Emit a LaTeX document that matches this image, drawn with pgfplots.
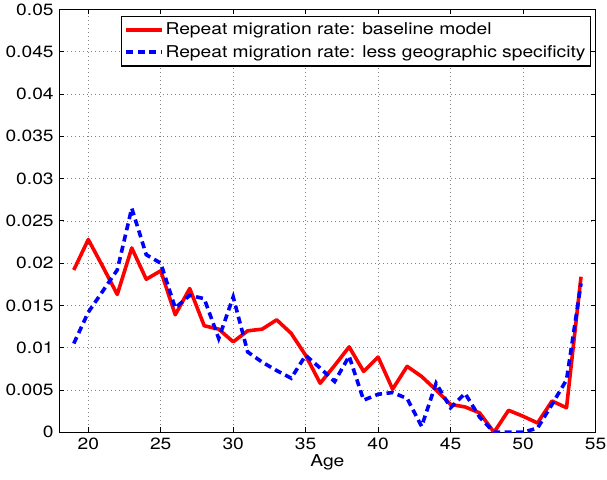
\documentclass[border=0pt]{standalone}
\usepackage{pgfplots}
\pgfplotsset{compat=1.18}
\usepackage{fontspec}
\setmainfont{TeX Gyre Heros}[FakeStretch=1.18]
\begin{document}
\fontsize{16.3bp}{19bp}\selectfont
\begin{tikzpicture}
\begin{axis}[
  at={(0,0)}, anchor=south west,
  scale only axis, width=536.2bp, height=422.8bp,
  xmin=18, xmax=55, ymin=0, ymax=0.05,
  xtick={20,25,30,35,40,45,50,55},
  ytick={0,0.005,0.01,0.015,0.02,0.025,0.03,0.035,0.04,0.045,0.05},
  yticklabels={0,0.005,0.01,0.015,0.02,0.025,0.03,0.035,0.04,0.045,0.05},
  scaled y ticks=false,
  /pgf/number format/assume math mode=true,
  tick align=inside, major tick length=5bp,
  tick style={black, line width=0.8bp},
  axis line style={black, line width=1.2bp},
  grid=major,
  major grid style={gray, line width=0.6bp, dash pattern=on 0.7bp off 3.3bp},
  xlabel={Age},
  xlabel style={yshift=6bp},
  tick label style={font=\fontsize{16.3bp}{19bp}\selectfont},
  label style={font=\fontsize{16.3bp}{19bp}\selectfont},
  legend style={at={(1,1)}, anchor=north east, xshift=-4.8bp, yshift=-6.2bp,
    draw=black, line width=1.2bp, font=\fontsize{16.3bp}{19bp}\selectfont,
    inner xsep=2.5bp, inner ysep=4.5bp, row sep=4bp},
  legend cell align=left,
  legend image code/.code={\draw[#1] (0bp,0bp) -- (35.7bp,0bp);},
]
\addplot[red, line width=3.6bp, line join=round] coordinates {
(19,0.0192) (20,0.0228) (21,0.0196) (22,0.0163) (23,0.0218) (24,0.0181)
(25,0.0191) (26,0.0139) (27,0.0170) (28,0.0126) (29,0.0122) (30,0.0107)
(31,0.0120) (32,0.0122) (33,0.0133) (34,0.0117) (35,0.0091) (36,0.0058)
(37,0.0079) (38,0.0101) (39,0.0072) (40,0.0089) (41,0.0051) (42,0.0078)
(43,0.0066) (44,0.0050) (45,0.0033) (46,0.0030) (47,0.0023) (48,0.0000)
(49,0.0026) (50,0.0019) (51,0.0011) (52,0.0037) (53,0.0029) (54,0.0184)
};
\addlegendentry{Repeat migration rate: baseline model}
\addplot[blue, line width=3.6bp, dash pattern=on 7bp off 4.5bp] coordinates {
(19,0.0105) (20,0.0142) (21,0.0167) (22,0.0192) (23,0.0265) (24,0.0210)
(25,0.0200) (26,0.0147) (27,0.0162) (28,0.0158) (29,0.0111) (30,0.0160)
(31,0.0095) (32,0.0083) (33,0.0073) (34,0.0064) (35,0.0091) (36,0.0076)
(37,0.0060) (38,0.0090) (39,0.0038) (40,0.0045) (41,0.0047) (42,0.0040)
(43,0.0007) (44,0.0058) (45,0.0029) (46,0.0046) (47,0.0018) (48,0.0000)
(49,0.0000) (50,0.0000) (51,0.0005) (52,0.0033) (53,0.0062) (54,0.0176)
};
\addlegendentry{Repeat migration rate: less geographic specificity}
\end{axis}
\pgfresetboundingbox
\path[use as bounding box] (-59.3bp,-47.7bp) rectangle (547.7bp,432.3bp);
\end{tikzpicture}
\end{document}
